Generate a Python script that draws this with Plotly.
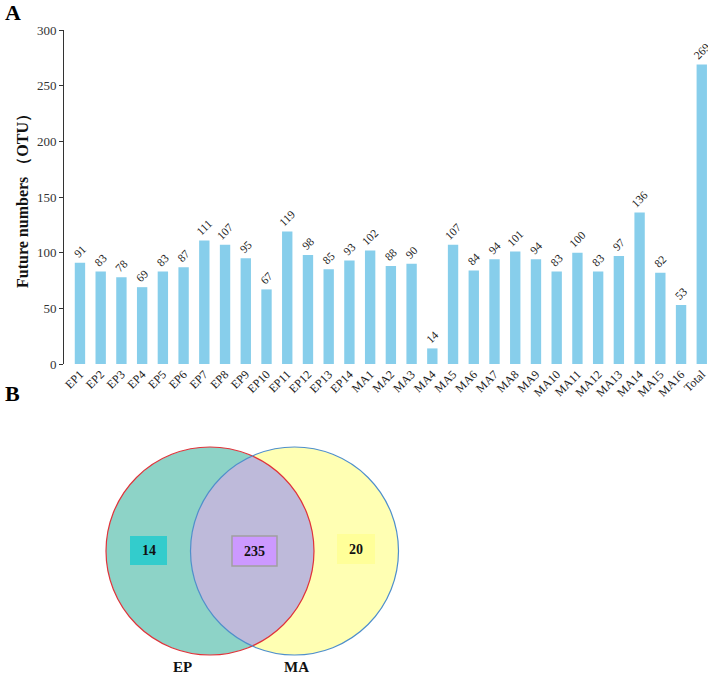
import numpy as np
import plotly.graph_objects as go

categories = ["EP1","EP2","EP3","EP4","EP5","EP6","EP7","EP8","EP9","EP10","EP11","EP12","EP13","EP14",
              "MA1","MA2","MA3","MA4","MA5","MA6","MA7","MA8","MA9","MA10","MA11","MA12","MA13","MA14","MA15","MA16","Total"]
values = [91,83,78,69,83,87,111,107,95,67,119,98,85,93,
          102,88,90,14,107,84,94,101,94,83,100,83,97,136,82,53,269]
y_ticks = [0,50,100,150,200,250,300]

venn_sets = ["EP", "MA"]
venn_counts = [14, 235, 20]   # EP only, shared, MA only

FONT = "Liberation Serif, Times New Roman, serif"
W, H = 708, 678
ML, MT = 64, 30

fig = go.Figure()
fig.add_trace(go.Bar(
    x=categories, y=values, marker_color="#87CEEB", marker_line_width=0,
    text=[str(v) for v in values], textposition="outside", textangle=-45, constraintext="none",
    textfont=dict(family=FONT, size=11.5, color="#222"), cliponaxis=False,
    xaxis="x", yaxis="y", showlegend=False))
fig.add_trace(go.Scatter(x=[None], y=[None], xaxis="x2", yaxis="y2", showlegend=False))

plot_h = H - MT
def py(p):
    return 1 - (p - MT) / plot_h

n = len(categories)
fig.update_layout(
    width=W, height=H, margin=dict(l=ML, r=0, t=MT, b=0, autoexpand=False),
    plot_bgcolor="white", paper_bgcolor="white",
    font=dict(family=FONT, color="#222"),
    bargap=0.5,
    xaxis=dict(domain=[0, 1], anchor="y", range=[-0.77, n - 1 + 0.3], automargin=False,
               tickangle=-45, tickfont=dict(family=FONT, size=12, color="#222"),
               showline=False, showgrid=False, ticks="", zeroline=False),
    yaxis=dict(domain=[py(364), 1], anchor="x", range=[0, 300], tickvals=y_ticks, automargin=False,
               tickfont=dict(family=FONT, size=13, color="#333"),
               showline=True, linecolor="#333", linewidth=1, ticks="outside", ticklen=4,
               tickcolor="#333", showgrid=False, zeroline=False,
               title=dict(text="<b>Future numbers （OTU）</b>", font=dict(family=FONT, size=16, color="#111"),
                          standoff=4)),
    xaxis2=dict(domain=[0, 1], anchor="y2", range=[ML, W], visible=False, automargin=False),
    yaxis2=dict(domain=[0, py(400)], anchor="x2", range=[H, 400], visible=False, automargin=False),
)

# Venn circles
r = 104
c1 = (210, 551)
c2 = (294.5, 551)
shapes = []
shapes.append(dict(type="circle", xref="x2", yref="y2", x0=c1[0]-r, x1=c1[0]+r, y0=c1[1]-r, y1=c1[1]+r,
                   fillcolor="#8DD3C7", line=dict(width=0)))
shapes.append(dict(type="circle", xref="x2", yref="y2", x0=c2[0]-r, x1=c2[0]+r, y0=c2[1]-r, y1=c2[1]+r,
                   fillcolor="#FFFFB3", line=dict(width=0)))
# lens
d = c2[0] - c1[0]
a = np.arccos(d / (2 * r))
t1 = np.linspace(-a, a, 60)
t2 = np.linspace(np.pi - a, np.pi + a, 60)
pts = [(c1[0] + r*np.cos(t), c1[1] + r*np.sin(t)) for t in t1] + \
      [(c2[0] + r*np.cos(t), c2[1] - r*np.sin(t)) for t in t2[::-1]]
path = "M " + " L ".join(f"{x:.2f},{y:.2f}" for x, y in pts) + " Z"
shapes.append(dict(type="path", xref="x2", yref="y2", path=path, fillcolor="#BEBADA", line=dict(width=0)))
shapes.append(dict(type="circle", xref="x2", yref="y2", x0=c1[0]-r, x1=c1[0]+r, y0=c1[1]-r, y1=c1[1]+r,
                   line=dict(color="#E0333A", width=1.2)))
shapes.append(dict(type="circle", xref="x2", yref="y2", x0=c2[0]-r, x1=c2[0]+r, y0=c2[1]-r, y1=c2[1]+r,
                   line=dict(color="#4F8FCB", width=1.2)))

boxes = [((130, 167, 536, 565), "#33CCCC", None),
         ((232, 277, 536, 566), "#CC99FF", "#A0A0A0"),
         ((337, 375, 534, 564), "#FFFF99", None)]
for (x0, x1, y0, y1), fc, lc in boxes:
    shapes.append(dict(type="rect", xref="x2", yref="y2", x0=x0, x1=x1, y0=y0, y1=y1,
                       fillcolor=fc, line=dict(color=lc or fc, width=1.5 if lc else 0)))
fig.update_layout(shapes=shapes)

ann = []
for ((x0, x1, y0, y1), _, _), cnt in zip(boxes, venn_counts):
    ann.append(dict(x=(x0+x1)/2, y=(y0+y1)/2, xref="x2", yref="y2", text=f"<b>{cnt}</b>", showarrow=False,
                    font=dict(family=FONT, size=14, color="#111")))
for name, xc in zip(venn_sets, [182, 296]):
    ann.append(dict(x=xc, y=667, xref="x2", yref="y2", text=f"<b>{name}</b>", showarrow=False,
                    font=dict(family=FONT, size=15, color="#111")))
ann.append(dict(x=-ML/(W-ML) + 3/(W-ML), y=1 + 18/plot_h, xref="paper", yref="paper", text="<b>A</b>",
                showarrow=False, xanchor="left", yanchor="middle", font=dict(family=FONT, size=22, color="#000")))
ann.append(dict(x=-ML/(W-ML) + 3/(W-ML), y=py(393), xref="paper", yref="paper", text="<b>B</b>",
                showarrow=False, xanchor="left", yanchor="middle", font=dict(family=FONT, size=22, color="#000")))
fig.update_layout(annotations=ann)

fig.write_html("out.html", config={"displayModeBar": False},
               post_script="document.body.style.margin='0';document.body.style.overflow='hidden';")
